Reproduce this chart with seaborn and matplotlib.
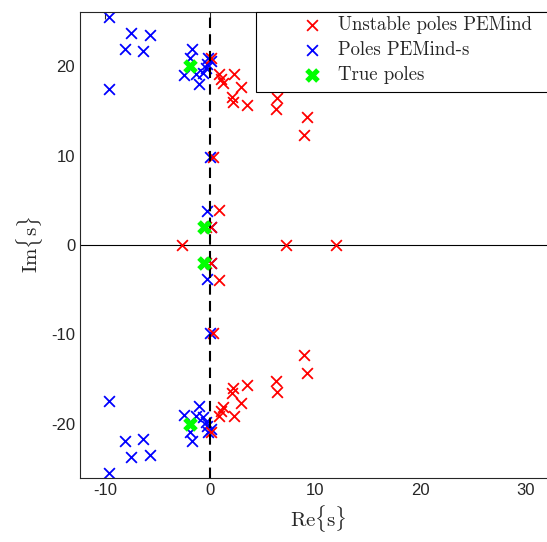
import numpy as np
import pandas as pd
import matplotlib
matplotlib.use("Agg")
import matplotlib.pyplot as plt
from matplotlib.patches import Rectangle
import seaborn as sns

# unstable poles PEMind (upper half, conjugates mirrored below) + real poles
red_re_up = [0.1, 0.8, 1.0, 1.2, 2.3, 2.9, 2.1, 2.2, 3.5, 6.4, 6.3, 9.2, 8.9, 0.3, 0.8, 0.1, -0.4]
red_im_up = [20.9, 19.1, 18.6, 18.2, 19.1, 17.7, 16.6, 16.0, 15.7, 16.5, 15.2, 14.3, 12.3, 9.9, 3.9, 2.0, 2.0]
red_re_real = [-2.7, 7.2, 12.0]

# poles PEMind-s (upper half)
blue_re_up = [-9.6, -7.5, -5.7, -8.1, -6.4, -9.6, -1.7, -1.9, -2.5, -1.1, -1.4, -0.7, -0.4, -0.3, -0.2, 0.1, 0.0, -0.3, 0.1]
blue_im_up = [25.5, 23.7, 23.5, 21.9, 21.7, 17.5, 22.0, 20.9, 19.0, 18.0, 19.2, 19.3, 19.8, 20.3, 20.9, 20.6, 9.9, 3.8, 2.0]

# true poles
true_re = [-1.9, -0.6]
true_im = [20.0, 2.0]

red = pd.DataFrame({
    "re": red_re_up + red_re_up + red_re_real,
    "im": red_im_up + [-v for v in red_im_up] + [0.0] * len(red_re_real),
})
blue = pd.DataFrame({
    "re": blue_re_up + blue_re_up,
    "im": blue_im_up + [-v for v in blue_im_up],
})
true = pd.DataFrame({
    "re": true_re + true_re,
    "im": true_im + [-v for v in true_im],
})

sns.set_style("white")
plt.rcParams["mathtext.fontset"] = "cm"
plt.rcParams["axes.unicode_minus"] = False
plt.rcParams["font.family"] = ["Liberation Sans", "DejaVu Sans"]

W, H = 547, 542
fig = plt.figure(figsize=(5.47, 5.42), dpi=100)
ax = fig.add_axes([80 / W, 64 / H, 476.7 / W, 466 / H])

ax.axhline(0, color="k", lw=0.8, zorder=1)
ax.axvline(0, color="k", lw=1.5, ls=(0, (5, 3)), zorder=4)

sns.scatterplot(data=red, x="re", y="im", ax=ax, marker="x", color="red",
                s=60, linewidth=1.3, label="Unstable poles PEMind", zorder=3)
sns.scatterplot(data=blue, x="re", y="im", ax=ax, marker="x", color="blue",
                s=60, linewidth=1.3, label="Poles PEMind-s", zorder=2)
sns.scatterplot(data=true, x="re", y="im", ax=ax, marker="X", color="#00ff00",
                s=110, linewidth=0, label="True poles", zorder=5)

ax.set_xlim(-12.4, 33.0)
ax.set_ylim(-26.1, 26.1)
ax.set_xticks([-10, 0, 10, 20, 30])
ax.set_yticks([-20, -10, 0, 10, 20])
ax.tick_params(direction="in", top=True, right=True, length=5, labelsize=12,
               color="#262626", labelcolor="#262626")
for sp in ax.spines.values():
    sp.set_color("#262626")
    sp.set_linewidth(0.8)

ax.set_xlabel(r"$\mathrm{Re}\{\mathrm{s}\}$", fontsize=15, color="#262626")
ax.set_ylabel(r"$\mathrm{Im}\{\mathrm{s}\}$", fontsize=15, color="#262626")

# legend box (MATLAB style, runs off the right edge)
box = Rectangle((256 / W, 1 - 92 / H), 310 / W, 80 / H, transform=fig.transFigure,
                facecolor="white", edgecolor="k", lw=0.8, zorder=6, clip_on=False)
ax.add_patch(box)

leg = ax.legend(loc="upper left", bbox_to_anchor=(293 / W, 1 - 16 / H),
                bbox_transform=fig.transFigure, frameon=False,
                borderaxespad=0, borderpad=0,
                prop={"family": "cmr10", "size": 13.5}, handletextpad=0.4,
                labelspacing=0.38, handlelength=2)
leg.set_zorder(7)

fig.savefig("out.png", dpi=100)
